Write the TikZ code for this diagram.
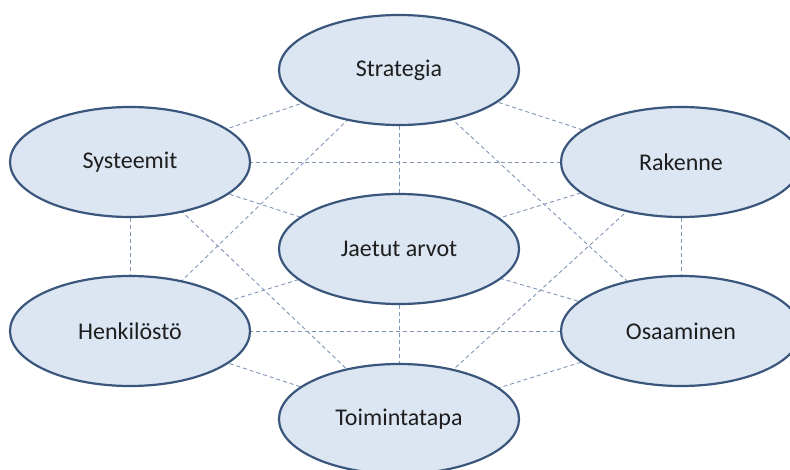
\documentclass[tikz,border=0pt]{standalone}
\usepackage{fontspec}
\setmainfont{Carlito}
\usetikzlibrary{backgrounds,shapes.geometric}
\definecolor{ovalfill}{RGB}{220,230,242}
\definecolor{ovaledge}{RGB}{58,86,124}
\definecolor{linkcol}{RGB}{128,150,182}
\definecolor{textcol}{RGB}{30,30,30}
\tikzset{
  oval/.style={ellipse, draw=ovaledge, line width=2.2pt, fill=ovalfill,
    minimum width=240pt, minimum height=110pt, inner sep=0pt,
    text=textcol, font=\fontsize{24}{29}\selectfont},
  link/.style={draw=linkcol, line width=0.9pt, dash pattern=on 4pt off 3pt}
}
\begin{document}
\begin{tikzpicture}[x=1pt,y=-1pt]
\useasboundingbox (0,0) rectangle (790,470);
\clip (0,0) rectangle (790,470);
\node[oval] (str) at (399,70)  {Strategia};
\node[oval] (sys) at (130,162) {Systeemit};
\node[oval] (rak) at (681,162) {Rakenne};
\node[oval] (jae) at (399,249) {Jaetut arvot};
\node[oval] (hen) at (130,331) {Henkilöstö};
\node[oval] (osa) at (681,331) {Osaaminen};
\node[oval] (toi) at (399,419) {Toimintatapa};
\begin{scope}[on background layer]
  \foreach \a/\b in {str/sys,str/rak,str/jae,str/hen,str/osa,
                     sys/rak,sys/jae,sys/hen,sys/toi,
                     rak/jae,rak/osa,rak/toi,
                     jae/hen,jae/osa,jae/toi,
                     hen/osa,hen/toi,osa/toi}
    \draw[link] (\a.center) -- (\b.center);
\end{scope}
\end{tikzpicture}
\end{document}
